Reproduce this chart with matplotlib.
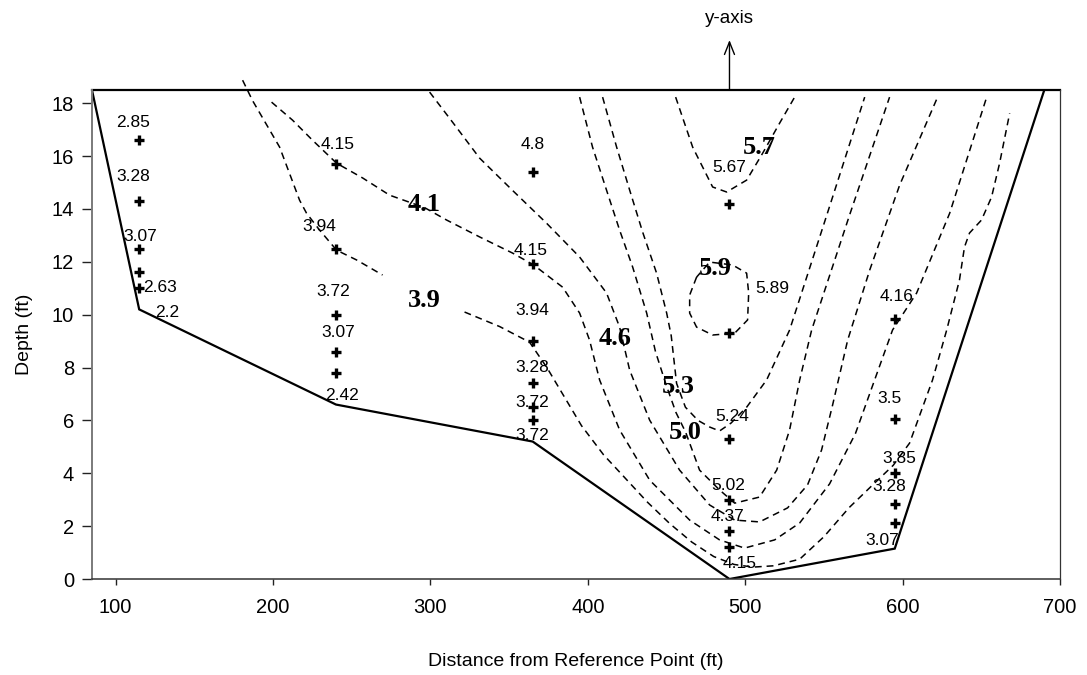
import matplotlib
matplotlib.use("Agg")
import matplotlib.pyplot as plt

plt.rcParams["font.family"] = ["Liberation Sans", "DejaVu Sans"]

# ---------------------------------------------------------------
# Channel cross-section: bed profile (distance ft, depth ft)
bed_x = [85, 115, 240, 365, 490, 595, 690]
bed_depth = [18.5, 10.2, 6.6, 5.2, 0.0, 1.15, 18.5]
water_surface = 18.5

# Velocity measurements at each vertical (depth ft, velocity ft/s)
st115_depth = [16.6, 14.3, 12.5, 11.6, 11.0]
st115_vel = [2.85, 3.28, 3.07, 2.63, 2.2]
st240_depth = [15.7, 12.5, 10.0, 8.6, 7.8]
st240_vel = [4.15, 3.94, 3.72, 3.07, 2.42]
st365_depth = [15.4, 11.9, 9.0, 7.4, 6.5, 6.0]
st365_vel = [4.8, 4.15, 3.94, 3.28, 3.72, 3.72]
st490_depth = [14.2, 9.3, 5.3, 3.0, 1.8, 1.2]
st490_vel = [5.67, 5.89, 5.24, 5.02, 4.37, 4.15]
st595_depth = [9.85, 6.05, 4.0, 2.84, 2.13]
st595_vel = [4.16, 3.5, 3.85, 3.28, 3.07]

# Isovels (lines of equal velocity, ft/s)
iso39a_x = [180.7, 187.0, 204.2, 216.9, 221.3, 229.6, 240.4, 253.1, 269.6]
iso39a_d = [18.87, 18.1, 16.34, 14.33, 13.84, 13.2, 12.44, 12.07, 11.5]
iso39b_x = [321.7, 344.0, 363.0, 374.0, 384.0, 396.0, 410.0, 424.0, 438.0,
            452.0, 466.0, 480.0, 493.0, 505.0, 518.0, 534.6, 550.0, 566.0,
            582.2, 594.0, 604.4, 619.0, 628.0, 636.1, 639.3, 642.5, 650.1,
            656.5, 661.6, 668.0]
iso39b_d = [10.1, 9.55, 8.96, 8.0, 7.0, 5.8, 4.7, 3.8, 2.9,
            2.1, 1.4, 0.85, 0.55, 0.45, 0.5, 0.75, 1.6, 2.7,
            3.63, 4.3, 5.14, 7.53, 9.42, 11.31, 12.56, 13.09, 13.58,
            14.45, 15.73, 17.62]
iso41_x = [199.1, 212.4, 225.1, 240.4, 257.0, 274.1, 296.3, 310.3, 331.3,
           352.2, 365.6, 384.0, 394.8, 401.1, 407.5, 420.2, 439.3, 464.7,
           483.7, 499.6, 518.7, 534.6, 553.6, 570.0, 582.2, 593.6, 608.9,
           629.9, 653.4]
iso41_d = [18.04, 17.36, 16.6, 15.73, 15.17, 14.52, 14.05, 13.58, 12.94,
           12.33, 11.88, 11.04, 10.06, 9.04, 7.53, 5.64, 3.74, 2.23,
           1.48, 1.17, 1.48, 2.12, 3.6, 5.5, 7.53, 9.42, 10.82,
           13.84, 18.23]
iso46_x = [299.5, 314.1, 331.3, 352.2, 373.8, 394.8, 411.9, 420.2, 426.6,
           439.3, 458.3, 477.4, 493.3, 509.1, 526.9, 539.6, 548.5, 555.5,
           565.1, 579.1, 598.1, 622.2]
iso46_d = [18.42, 17.28, 15.92, 14.7, 13.46, 12.18, 10.82, 9.53, 7.9,
           6.01, 4.12, 2.8, 2.23, 2.16, 2.69, 3.56, 4.88, 6.58,
           9.04, 11.69, 14.9, 18.23]
iso50_x = [394.8, 403.0, 411.9, 420.2, 428.5, 437.4, 443.0, 450.0, 456.0,
           462.1, 471.0, 483.7, 493.3, 509.1, 520.0, 528.2, 534.6, 542.2,
           566.3, 591.7]
iso50_d = [18.23, 16.34, 14.71, 13.2, 11.8, 10.06, 8.6, 7.3, 6.3,
           5.56, 4.12, 3.37, 2.87, 3.1, 4.12, 5.64, 7.53, 9.42,
           13.77, 18.23]
iso53_x = [409.4, 418.3, 426.6, 434.8, 443.7, 450.1, 453.0, 456.4, 462.0,
           470.0, 477.4, 483.7, 491.0, 500.9, 513.6, 528.2, 552.0, 575.9]
iso53_d = [18.23, 16.34, 14.71, 13.13, 11.57, 10.06, 9.2, 7.4, 6.5,
           6.0, 5.75, 5.6, 5.9, 6.5, 7.53, 9.42, 13.8, 18.23]
iso57_x = [455.8, 466.6, 479.3, 488.2, 500.9, 511.1, 521.9, 531.4]
iso57_d = [18.23, 16.34, 14.83, 14.64, 15.09, 16.11, 17.25, 18.23]
iso59_x = [469.1, 464.7, 464.7, 469.1, 479.3, 493.3, 501.5, 502.2, 500.9,
           492.0, 477.4, 469.1]
iso59_d = [11.42, 10.74, 10.06, 9.53, 9.23, 9.3, 9.8, 10.82, 11.57,
           11.88, 11.99, 11.42]

# Isovel label values and where they sit
iso_labels = ["4.1", "3.9", "4.6", "5.3", "5.0", "5.7", "5.9"]
iso_label_x = [296.3, 296.3, 417.0, 457.7, 462.1, 509.1, 481.2]
iso_label_d = [14.15, 10.55, 9.11, 7.3, 5.56, 16.34, 11.76]

# Pixel offsets of the velocity annotations from their points
off115 = [(-6, 18), (-6, 25), (1, 12), (21, -15), (28, -24)]
off240 = [(2, 19), (-17, 22), (-3, 23), (2, 19), (6, -23)]
off365 = [(0, 27), (-2, 14), (0, 31), (0, 16), (0, 5), (0, -15)]
off490 = [(0, 36), (43, 45), (3, 22), (-1, 14), (-2, 15), (10, -16)]
off595 = [(2, 22), (-5, 21), (5, 15), (-6, 17), (-13, -18)]

stations = [
    (115, st115_depth, st115_vel, off115),
    (240, st240_depth, st240_vel, off240),
    (365, st365_depth, st365_vel, off365),
    (490, st490_depth, st490_vel, off490),
    (595, st595_depth, st595_vel, off595),
]

# ---------------------------------------------------------------
fig = plt.figure(figsize=(10.87, 6.75), dpi=100)
ax = fig.add_axes([0.0846, 0.1422, 0.8906, 0.7245])

dash = dict(color="black", lw=1.1, linestyle=(0, (4.5, 3.2)))
isovels = [
    (iso39a_x, iso39a_d), (iso39b_x, iso39b_d), (iso41_x, iso41_d),
    (iso46_x, iso46_d), (iso50_x, iso50_d), (iso53_x, iso53_d),
    (iso57_x, iso57_d), (iso59_x, iso59_d),
]
for xs, ds in isovels:
    ax.plot(xs, ds, clip_on=False, **dash)

# Channel bed and water surface
ax.plot(bed_x, bed_depth, color="black", lw=1.6, solid_joinstyle="miter")
ax.plot([85, 700], [water_surface, water_surface], color="black", lw=1.6,
        clip_on=False)

# Sampling points with velocity values
for sx, depths, vels, offs in stations:
    ax.plot([sx] * len(depths), depths, linestyle="none", marker="+",
            markersize=7.5, markeredgewidth=2.4, color="black")
    for d, v, (dx, dy) in zip(depths, vels, offs):
        ax.annotate(f"{v:g}", xy=(sx, d), xytext=(dx, dy),
                    textcoords="offset pixels", ha="center", va="center",
                    fontsize=12.5, color="black")

for txt, lx, ld in zip(iso_labels, iso_label_x, iso_label_d):
    ax.text(lx, ld, txt, ha="center", va="center", fontsize=19,
            fontweight="bold", family=["Liberation Serif", "DejaVu Serif"])

# Position of the y-axis reference
ax.annotate("", xy=(490, 1.102), xycoords=("data", "axes fraction"),
            xytext=(490, 1.0), textcoords=("data", "axes fraction"),
            arrowprops=dict(arrowstyle="->,head_length=0.45,head_width=0.18",
                            mutation_scale=20, lw=1.0, color="black",
                            shrinkA=0, shrinkB=0),
            annotation_clip=False)
ax.text(490, 1.147, "y-axis", transform=ax.get_xaxis_transform(),
        ha="center", va="center", fontsize=13.5)

ax.set_xlim(85, 700)
ax.set_ylim(0, 18.5)
ax.set_xticks([100, 200, 300, 400, 500, 600, 700])
ax.set_yticks(range(0, 19, 2))
ax.tick_params(axis="x", direction="out", length=4.5, width=1.0,
               labelsize=14.5, pad=9, colors="#222222")
ax.tick_params(axis="y", direction="out", length=7, width=1.0,
               labelsize=14.5, pad=6, colors="#222222")
for lab in ax.get_xticklabels() + ax.get_yticklabels():
    lab.set_color("black")

ax.spines["top"].set_visible(False)
ax.spines["left"].set_color("#7a7a7a")
ax.spines["left"].set_linewidth(1.4)
ax.spines["bottom"].set_color("#333333")
ax.spines["bottom"].set_linewidth(1.1)
ax.spines["right"].set_color("#333333")
ax.spines["right"].set_linewidth(0.9)

ax.set_xlabel("Distance from Reference Point (ft)", fontsize=14, labelpad=26)
ax.set_ylabel("Depth (ft)", fontsize=14, labelpad=13)

fig.savefig("out.png", dpi=100)
